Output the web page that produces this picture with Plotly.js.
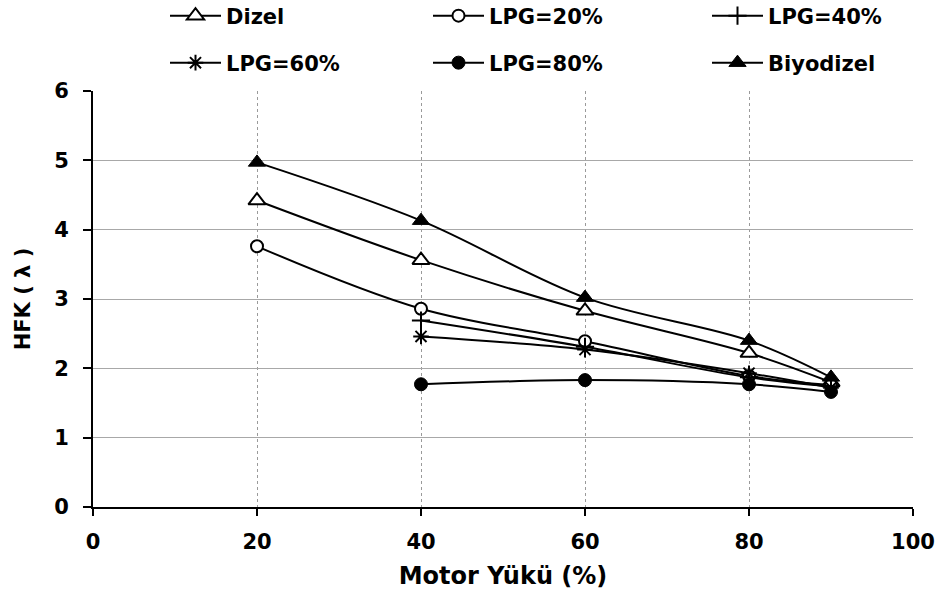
<!DOCTYPE html>
<html><head><meta charset="utf-8">
<script src="https://cdn.plot.ly/plotly-3.0.1.min.js"></script>
<style>html,body{margin:0;padding:0;background:#fff}#chart{width:942px;height:599px}</style>
</head><body><div id="chart"></div>
<script>
// Motor load (%) categories
const loadFull = [20, 40, 60, 80, 90];
const loadLpg = [40, 60, 80, 90];
const xTicks = [0, 20, 40, 60, 80, 100];
const yTicks = [0, 1, 2, 3, 4, 5, 6];
// HFK (lambda) values
const dizel = [4.42, 3.56, 2.83, 2.22, 1.80];
const lpg20 = [3.76, 2.86, 2.39, 1.89, 1.76];
const lpg40 = [2.69, 2.31, 1.87, 1.74];
const lpg60 = [2.46, 2.27, 1.93, 1.72];
const lpg80 = [1.77, 1.83, 1.77, 1.66];
const biyodizel = [4.97, 4.13, 3.02, 2.40, 1.87];

const FONT = 'DejaVu Sans, Liberation Sans, Arial, sans-serif';
const line = {color: '#000', width: 2, shape: 'spline'};

function tr(name, x, y, marker, legend) {
  return {type: 'scatter', mode: 'lines+markers', name: name, x: x, y: y,
          line: line, marker: marker, legend: legend, cliponaxis: false};
}

const data = [
  tr('Dizel', loadFull, dizel, {symbol: 'triangle-up', size: 15, color: '#fff', line: {color: '#000', width: 2}}, 'legend'),
  tr('LPG=20%', loadFull, lpg20, {symbol: 'circle', size: 12, color: '#fff', line: {color: '#000', width: 2}}, 'legend2'),
  tr('LPG=40%', loadLpg, lpg40, {symbol: 'cross-thin', size: 13, color: '#000', line: {color: '#000', width: 2}}, 'legend3'),
  tr('LPG=60%', loadLpg, lpg60, {symbol: 'asterisk', size: 13, color: '#000', line: {color: '#000', width: 2}}, 'legend4'),
  tr('LPG=80%', loadLpg, lpg80, {symbol: 'circle', size: 13, color: '#000', line: {color: '#000', width: 1}}, 'legend5'),
  tr('Biyodizel', loadFull, biyodizel, {symbol: 'triangle-up', size: 15, color: '#000', line: {color: '#000', width: 1}}, 'legend6')
];

const legFont = {family: FONT, size: 21, color: '#000', weight: 'bold'};
function leg(xPx, yPx) {
  return {orientation: 'h', xref: 'container', yref: 'container', xanchor: 'left', yanchor: 'middle',
    x: xPx / 942, y: 1 - yPx / 599,
    font: legFont, bgcolor: 'rgba(0,0,0,0)', borderwidth: 0, itemwidth: 51};
}
const colX = [165, 428, 707];
const rowY = [16, 63];

const layout = {
  width: 942, height: 599,
  margin: {l: 93, r: 29, t: 91, b: 92, pad: 0},
  paper_bgcolor: '#fff', plot_bgcolor: '#fff',
  font: {family: FONT, size: 21, color: '#000', weight: 'bold'},
  showlegend: true,
  legend: leg(colX[0], rowY[0]),
  legend2: leg(colX[1], rowY[0]),
  legend3: leg(colX[2], rowY[0]),
  legend4: leg(colX[0], rowY[1]),
  legend5: leg(colX[1], rowY[1]),
  legend6: leg(colX[2], rowY[1]),
  xaxis: {
    range: [0, 100], tickvals: xTicks, ticktext: xTicks.map(String),
    showgrid: true, gridcolor: '#9a9a9a', gridwidth: 1, griddash: 'dot',
    showline: true, linecolor: '#000', linewidth: 2, zeroline: false,
    ticks: 'outside', ticklen: 7, tickwidth: 2, tickcolor: '#000',
    ticklabelstandoff: 8,
    tickfont: {family: FONT, size: 21, color: '#000', weight: 'bold'},
    title: {text: 'Motor Yükü (%)', font: {family: FONT, size: 24, color: '#000', weight: 'bold'}, standoff: 14}
  },
  yaxis: {
    range: [0, 6], tickvals: yTicks, ticktext: yTicks.map(String),
    showgrid: true, gridcolor: '#a8a8a8', gridwidth: 1,
    showline: true, linecolor: '#000', linewidth: 2, zeroline: false,
    ticks: 'outside', ticklen: 8, tickwidth: 2, tickcolor: '#000',
    ticklabelstandoff: 10,
    tickfont: {family: FONT, size: 21, color: '#000', weight: 'bold'},
    title: {text: 'HFK ( λ )', font: {family: FONT, size: 21, color: '#000', weight: 'bold'}, standoff: 18}
  }
};

Plotly.newPlot('chart', data, layout, {displayModeBar: false, staticPlot: true});
</script>
</body></html>
